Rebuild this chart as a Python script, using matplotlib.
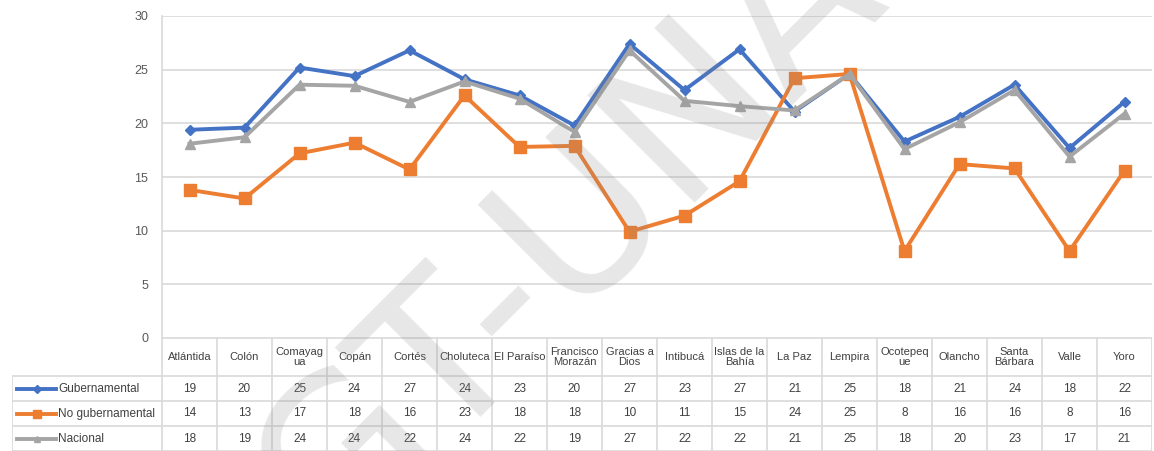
import numpy as np
import matplotlib
matplotlib.use("Agg")
import matplotlib.pyplot as plt
from matplotlib.lines import Line2D

plt.rcParams["font.family"] = ["Liberation Sans Narrow", "Liberation Sans", "DejaVu Sans"]

# --- Daten ---
departamentos = ["Atlántida", "Colón", "Comayag\nua", "Copán", "Cortés", "Choluteca",
                 "El Paraíso", "Francisco\nMorazán", "Gracias a\nDios", "Intibucá",
                 "Islas de la\nBahía", "La Paz", "Lempira", "Ocotepeq\nue", "Olancho",
                 "Santa\nBárbara", "Valle", "Yoro"]
gubernamental = [19.4, 19.6, 25.2, 24.4, 26.8, 24.1, 22.6, 19.8, 27.4, 23.1,
                 26.9, 21.1, 24.6, 18.3, 20.6, 23.6, 17.7, 22.0]
no_gubernamental = [13.8, 13.0, 17.2, 18.2, 15.7, 22.6, 17.8, 17.9, 9.9, 11.4,
                    14.6, 24.2, 24.6, 8.1, 16.2, 15.8, 8.1, 15.6]
nacional = [18.1, 18.7, 23.6, 23.5, 22.0, 23.9, 22.3, 19.2, 26.8, 22.1,
            21.6, 21.2, 24.6, 17.6, 20.1, 23.1, 16.9, 20.9]
y_ticks = [0, 5, 10, 15, 20, 25, 30]

series = [
    ("Gubernamental", gubernamental, "#4472C4", "D", 5.5),
    ("No gubernamental", no_gubernamental, "#ED7D31", "s", 8),
    ("Nacional", nacional, "#A5A5A5", "^", 7),
]

W, H = 1154, 451
fig = plt.figure(figsize=(W / 100, H / 100), dpi=100)

# Hauptdiagramm
L, R, T, B = 162, 1152, 16, 338
ax = fig.add_axes([L / W, 1 - B / H, (R - L) / W, (B - T) / H])
x = np.arange(len(departamentos))
for name, vals, col, mk, ms in series:
    ax.plot(x, vals, color=col, lw=2.8, marker=mk, ms=ms, label=name, zorder=3)
ax.set_xlim(-0.5, len(departamentos) - 0.5)
ax.set_ylim(0, 30)
ax.set_yticks(y_ticks)
ax.set_xticks([])
ax.tick_params(axis="y", length=0, labelsize=9, colors="#595959", pad=10)
ax.grid(axis="y", color="#D9D9D9", lw=1.2)
for s in ["top", "right", "bottom"]:
    ax.spines[s].set_visible(False)
ax.spines["left"].set_color("#D9D9D9")
ax.spines["left"].set_linewidth(1.2)

# Datentabelle
tb_top = B
tab = fig.add_axes([12 / W, 0, (R - 12) / W, (H - tb_top) / H])
col_w = (R - L) / len(departamentos)
x_left = -0.5 - (L - 12) / col_w
tab.set_xlim(x_left, len(departamentos) - 0.5)
tab.set_ylim(H - tb_top, 0)
tab.axis("off")
grid_c = "#D9D9D9"
rows_y = [38, 63, 88, 113]
txt_c = "#404040"
# horizontale Linien
tab.plot([-0.5, len(departamentos) - 0.5], [0, 0], color=grid_c, lw=1.2)
for yy in rows_y:
    tab.plot([x_left, len(departamentos) - 0.5], [yy, yy], color=grid_c, lw=1.2)
# vertikale Linien
for i in range(len(departamentos) + 1):
    tab.plot([i - 0.5, i - 0.5], [0, 113], color=grid_c, lw=1.2)
tab.plot([x_left, x_left], [rows_y[0], 113], color=grid_c, lw=1.2)

for i, d in enumerate(departamentos):
    tab.text(i, rows_y[0] / 2, d, ha="center", va="center", fontsize=8,
             color=txt_c, linespacing=1.0)

for r, (name, vals, col, mk, ms) in enumerate(series):
    yc = (rows_y[r] + rows_y[r + 1]) / 2
    x0 = x_left + 5 / col_w
    x1 = x_left + 44 / col_w
    tab.add_line(Line2D([x0, x1], [yc, yc], color=col, lw=2.8))
    tab.plot([(x0 + x1) / 2], [yc], marker=mk, color=col, ms=ms * 0.7)
    tab.text(x_left + 46 / col_w, yc, name, ha="left", va="center", fontsize=8.5,
             color=txt_c)
    for i, v in enumerate(vals):
        tab.text(i, yc, f"{int(np.floor(v + 0.5))}", ha="center", va="center",
                 fontsize=8.5, color=txt_c)

# Wasserzeichen
fig.text(0.49, 0.49, "DGT-UNAH", fontsize=150, color="#888888", alpha=0.2,
         rotation=45, ha="center", va="center", family="DejaVu Sans", zorder=10)

fig.savefig("out.png", dpi=100)
